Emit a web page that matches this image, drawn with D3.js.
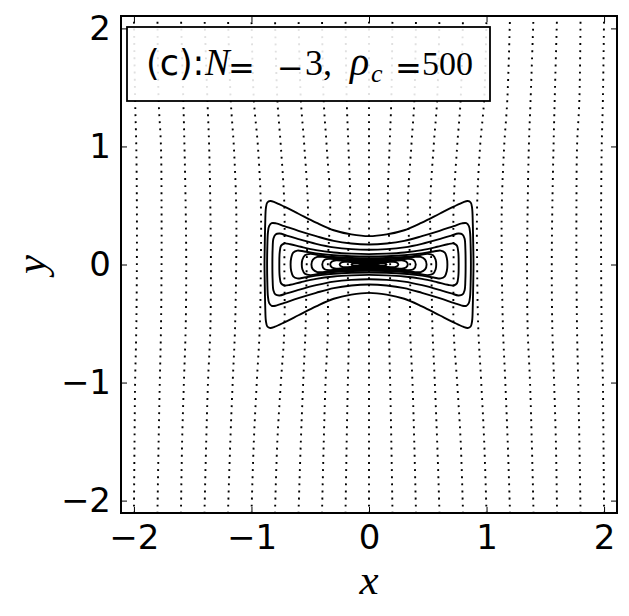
<!DOCTYPE html>
<html>
<head>
<meta charset="utf-8">
<script src="https://cdn.jsdelivr.net/npm/d3@7"></script>
<style>
  html, body { margin: 0; padding: 0; background: #fff; }
  svg { display: block; }
</style>
</head>
<body>
<svg id="chart" width="629" height="616"></svg>
<script>
// ---------------- data ----------------
const xTicks = [-2, -1, 0, 1, 2];
const yTicks = [-2, -1, 0, 1, 2];
const xDomain = [-2.11, 2.11];
const yDomain = [-2.105, 2.105];

// heights at which the dotted field lines were sampled
const fieldYLevels = [-2.11, -1.5, -1.0, -0.55, 0, 0.5, 1.0, 1.4, 2.11];
// x positions of each left-half field line at those heights (mirrored for right half)
const fieldLineM20 = [-2.0, -1.995, -1.99, -1.98, -1.975, -1.975, -1.98, -1.99, -2.0];
const fieldLineM18 = [-1.8, -1.79, -1.78, -1.77, -1.765, -1.765, -1.77, -1.79, -1.8];
const fieldLineM16 = [-1.6, -1.59, -1.575, -1.56, -1.555, -1.56, -1.57, -1.58, -1.6];
const fieldLineM14 = [-1.4, -1.385, -1.37, -1.35, -1.345, -1.35, -1.36, -1.375, -1.4];
const fieldLineM12 = [-1.2, -1.18, -1.16, -1.14, -1.13, -1.13, -1.15, -1.177, -1.2];
const fieldLineM10 = [-1.0, -0.98, -0.955, -0.93, -0.92, -0.92, -0.945, -0.98, -1.0];
const fieldLineM08 = [-0.8, -0.78, -0.75, -0.72, -0.72, -0.72, -0.75, -0.78, -0.8];
const fieldLineM06 = [-0.6, -0.58, -0.56, -0.54, -0.53, -0.52, -0.55, -0.58, -0.6];
const fieldLineM04 = [-0.4, -0.385, -0.37, -0.35, -0.35, -0.33, -0.36, -0.386, -0.4];
const fieldLineM02 = [-0.2, -0.19, -0.18, -0.17, -0.18, -0.16, -0.175, -0.19, -0.2];
const fieldLine00  = [0, 0, 0, 0, 0, 0, 0, 0, 0];
const fieldLinesLeft = [fieldLineM20, fieldLineM18, fieldLineM16, fieldLineM14, fieldLineM12,
                        fieldLineM10, fieldLineM08, fieldLineM06, fieldLineM04, fieldLineM02];

// closed contours: upper-right quadrant points [x, y] (mirrored to full shape)
const contour1  = [[0,0.24],[0.15,0.255],[0.3,0.29],[0.45,0.355],[0.6,0.43],[0.72,0.49],[0.8,0.527],[0.84,0.538],[0.865,0.525],[0.877,0.48],[0.883,0.35],[0.887,0.15],[0.889,0]];
const contour2  = [[0,0.17],[0.15,0.178],[0.3,0.2],[0.45,0.24],[0.6,0.285],[0.72,0.325],[0.79,0.348],[0.828,0.35],[0.85,0.325],[0.86,0.27],[0.865,0.15],[0.867,0]];
const contour3  = [[0,0.125],[0.15,0.13],[0.3,0.145],[0.45,0.175],[0.6,0.215],[0.7,0.245],[0.76,0.262],[0.795,0.255],[0.813,0.22],[0.82,0.13],[0.822,0]];
const contour4  = [[0,0.088],[0.15,0.092],[0.3,0.102],[0.45,0.122],[0.58,0.15],[0.67,0.172],[0.72,0.178],[0.748,0.16],[0.76,0.1],[0.763,0]];
const contour5  = [[0,0.068],[0.15,0.07],[0.3,0.078],[0.45,0.094],[0.55,0.11],[0.61,0.118],[0.645,0.1],[0.662,0.055],[0.667,0]];
const contour6  = [[0,0.053],[0.15,0.055],[0.3,0.063],[0.42,0.078],[0.5,0.09],[0.545,0.078],[0.567,0.04],[0.572,0]];
const contour7  = [[0,0.042],[0.15,0.044],[0.28,0.052],[0.38,0.064],[0.44,0.064],[0.477,0.042],[0.49,0]];
const contour8  = [[0,0.032],[0.15,0.034],[0.25,0.041],[0.33,0.048],[0.378,0.04],[0.398,0]];
const contour9  = [[0,0.023],[0.12,0.025],[0.22,0.031],[0.28,0.035],[0.315,0.025],[0.33,0]];
const contour10 = [[0,0.015],[0.1,0.017],[0.18,0.022],[0.228,0.02],[0.25,0]];
const contour11 = [[0,0.007],[0.08,0.009],[0.13,0.009],[0.15,0]];
const contours = [contour1, contour2, contour3, contour4, contour5, contour6,
                  contour7, contour8, contour9, contour10, contour11];

const xLabel = "x";
const yLabel = "y";

// ---------------- layout ----------------
const svg = d3.select("#chart");
const mLeft = 121, mRight = 617, mTop = 16, mBottom = 513;

const x = d3.scaleLinear().domain(xDomain).range([mLeft, mRight]);
const y = d3.scaleLinear().domain(yDomain).range([mBottom, mTop]);

svg.append("defs").append("clipPath").attr("id", "clip")
  .append("rect").attr("x", mLeft).attr("y", mTop)
  .attr("width", mRight - mLeft).attr("height", mBottom - mTop);

const plot = svg.append("g").attr("clip-path", "url(#clip)");

// field lines (dotted)
const allField = [];
fieldLinesLeft.forEach(l => allField.push(l));
allField.push(fieldLine00);
fieldLinesLeft.slice().reverse().forEach(l => allField.push(l.map(v => -v)));

const fieldLine = d3.line()
  .x(d => x(d[0])).y(d => y(d[1]))
  .curve(d3.curveCatmullRom.alpha(0.5));

plot.selectAll("path.field").data(allField).join("path")
  .attr("class", "field")
  .attr("d", l => fieldLine(l.map((v, i) => [v, fieldYLevels[i]])))
  .attr("fill", "none")
  .attr("stroke", "#000")
  .attr("stroke-width", 1.9)
  .attr("stroke-dasharray", "1.9,5.2");

// contours (solid, closed)
function ring(q) {
  const n = q.length;
  const pts = [];
  for (let i = 0; i < n; i++) pts.push([q[i][0], q[i][1]]);
  for (let i = n - 2; i >= 0; i--) pts.push([q[i][0], -q[i][1]]);
  for (let i = 1; i < n; i++) pts.push([-q[i][0], -q[i][1]]);
  for (let i = n - 2; i >= 1; i--) pts.push([-q[i][0], q[i][1]]);
  return pts;
}
const contourLine = d3.line()
  .x(d => x(d[0])).y(d => y(d[1]))
  .curve(d3.curveCatmullRomClosed.alpha(0.5));

plot.selectAll("path.contour").data(contours).join("path")
  .attr("class", "contour")
  .attr("d", c => contourLine(ring(c)))
  .attr("fill", "none")
  .attr("stroke", "#000")
  .attr("stroke-width", 1.9);

// axes
const tickFont = "DejaVu Sans, sans-serif";
const fmt = d3.format("d");
const axB = svg.append("g").attr("transform", `translate(0,${mBottom})`)
  .call(d3.axisBottom(x).tickValues(xTicks).tickFormat(fmt).tickSize(-6).tickPadding(12));
const axT = svg.append("g").attr("transform", `translate(0,${mTop})`)
  .call(d3.axisTop(x).tickValues(xTicks).tickSize(-6).tickFormat(""));
const axL = svg.append("g").attr("transform", `translate(${mLeft},0)`)
  .call(d3.axisLeft(y).tickValues(yTicks).tickFormat(fmt).tickSize(-6).tickPadding(10));
const axR = svg.append("g").attr("transform", `translate(${mRight},0)`)
  .call(d3.axisRight(y).tickValues(yTicks).tickSize(-6).tickFormat(""));

[axB, axT, axL, axR].forEach(a => {
  a.select(".domain").remove();
  a.selectAll(".tick line").attr("stroke", "#000").attr("stroke-width", 1);
  a.selectAll(".tick text").attr("fill", "#000")
    .style("font-family", tickFont).style("font-size", "34px");
});

// frame
svg.append("rect").attr("x", mLeft).attr("y", mTop)
  .attr("width", mRight - mLeft).attr("height", mBottom - mTop)
  .attr("fill", "none").attr("stroke", "#000").attr("stroke-width", 2);

// axis labels
svg.append("text").attr("x", (mLeft + mRight) / 2).attr("y", 594)
  .attr("text-anchor", "middle")
  .style("font-family", "Liberation Serif, serif").style("font-style", "italic")
  .style("font-size", "43px").text(xLabel);
svg.append("text")
  .attr("transform", `translate(45,${(mTop + mBottom) / 2}) rotate(-90)`)
  .attr("text-anchor", "middle")
  .style("font-family", "Liberation Serif, serif").style("font-style", "italic")
  .style("font-size", "43px").text(yLabel);

// legend box
svg.append("rect").attr("x", 127).attr("y", 27).attr("width", 363).attr("height", 74)
  .attr("fill", "#fff").attr("fill-opacity", 0.88)
  .attr("stroke", "#000").attr("stroke-width", 1.8);

const serif = "Liberation Serif, serif";
const lt = svg.append("text").attr("fill", "#000");
lt.append("tspan").attr("x", 146).attr("y", 75).style("font-family", tickFont).style("font-size", "35px").text("(c):");
lt.append("tspan").attr("x", 205).attr("y", 75).style("font-family", serif).style("font-style", "italic").style("font-size", "37px").text("N");
lt.append("tspan").attr("x", 228).attr("y", 79).style("font-family", tickFont).style("font-size", "32px").text("=");
lt.append("tspan").attr("x", 277).attr("y", 79).style("font-family", tickFont).style("font-size", "32px").text("\u2212");
lt.append("tspan").attr("x", 305).attr("y", 75).style("font-family", serif).style("font-size", "36px").text("3,");
lt.append("tspan").attr("x", 350).attr("y", 75).style("font-family", serif).style("font-style", "italic").style("font-size", "40px").text("\u03c1");
lt.append("tspan").attr("x", 371).attr("y", 82).style("font-family", serif).style("font-style", "italic").style("font-size", "26px").text("c");
lt.append("tspan").attr("x", 395).attr("y", 79).style("font-family", tickFont).style("font-size", "32px").text("=");
lt.append("tspan").attr("x", 422).attr("y", 75).style("font-family", serif).style("font-size", "34px").text("500");
</script>
</body>
</html>
